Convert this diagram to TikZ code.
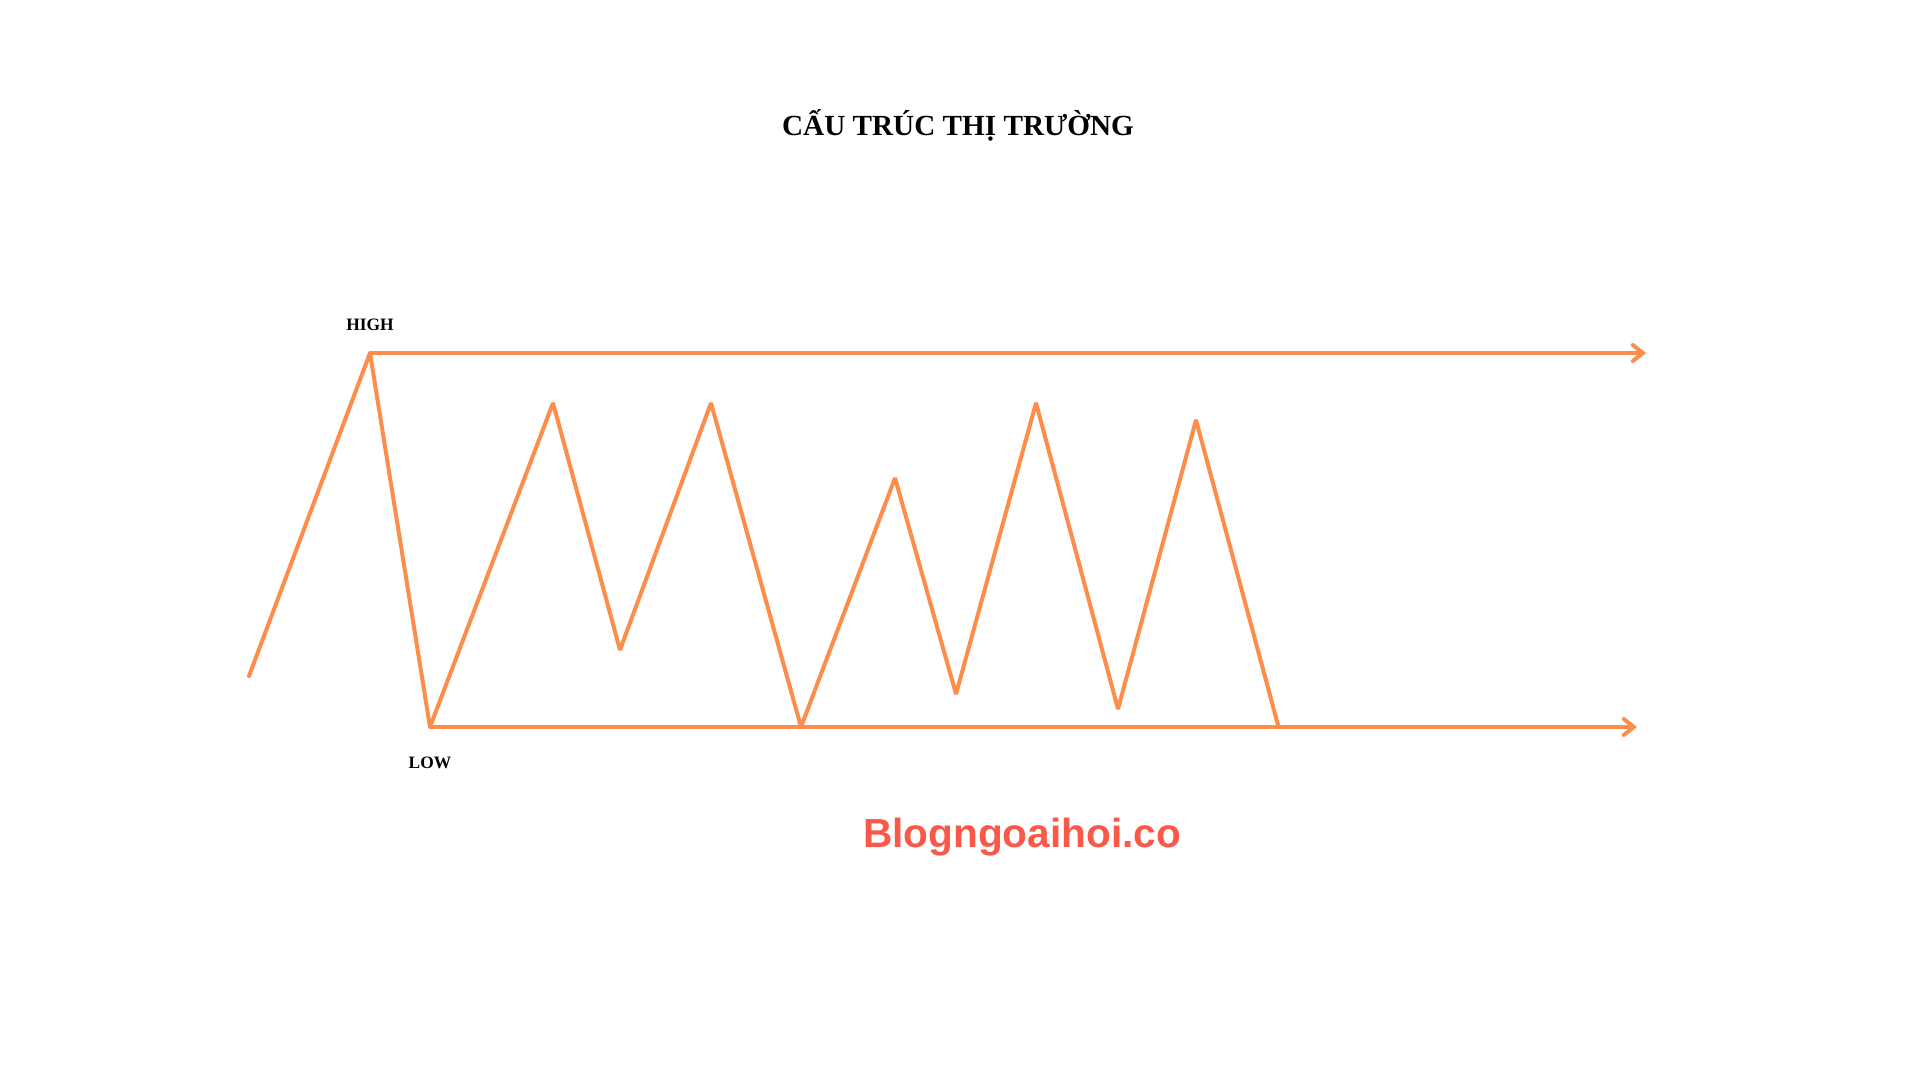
\documentclass[tikz,border=0pt]{standalone}
\usepackage{fontspec}
\setmainfont{Liberation Serif}
\newfontfamily\markfont{Liberation Sans}
\usetikzlibrary{arrows.meta,positioning}
\definecolor{trendline}{RGB}{253,141,74}
\definecolor{markred}{RGB}{250,88,72}

\begin{document}
\begin{tikzpicture}[x=0.5pt,y=-0.5pt,
	swing/.style={draw=trendline,line width=2pt,line join=bevel,line cap=round},
	level/.style={swing,-{Straight Barb[length=5pt,width=8pt,line cap=round]}},
	levellabel/.style={font=\bfseries\fontsize{8.7}{10}\selectfont,anchor=base,inner sep=0pt}]
	\useasboundingbox (0,0) rectangle (1920,1080);
	\node (title) [anchor=base,inner sep=0pt,font=\bfseries\fontsize{14.6}{17}\selectfont] at (958,136) {CẤU TRÚC THỊ TRƯỜNG};
	% swing points
	\coordinate (start) at (249,676);
	\coordinate (high) at (370,353);
	\coordinate (low) at (430,727);
	\coordinate (p1) at (553,403);
	\coordinate (t1) at (620,650);
	\coordinate (p2) at (711,403);
	\coordinate (t2) at (801,727);
	\coordinate (p3) at (895,478);
	\coordinate (t3) at (956,694);
	\coordinate (p4) at (1036,403);
	\coordinate (t4) at (1118,709);
	\coordinate (p5) at (1196,420);
	\coordinate (stop) at (1278,725);
	\coordinate (highend) at (1646,353);
	\coordinate (lowend) at (1637,727);
	\node (hlabel) [levellabel] at (370,330) {HIGH};
	\node (llabel) [levellabel] at (430,768) {LOW};
	\draw [swing] (start) -- (high) -- (low) -- (p1) -- (t1) -- (p2) -- (t2) -- (p3) -- (t3) -- (p4) -- (t4) -- (p5) -- (stop);
	\draw [level] (high) -- (highend);
	\draw [level] (low) -- (lowend);
	\node (mark) [anchor=base,inner sep=0pt,text=markred,font=\markfont\bfseries\fontsize{20.3}{24}\selectfont] at (1022,847) {Blogngoaihoi.co};
\end{tikzpicture}
\end{document}
